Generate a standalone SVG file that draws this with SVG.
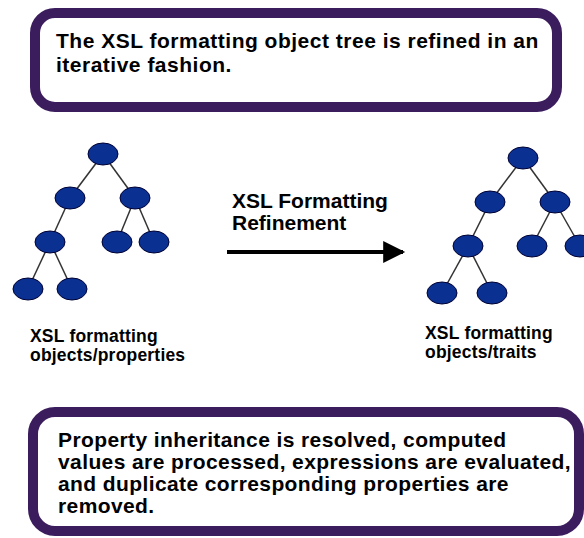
<svg xmlns="http://www.w3.org/2000/svg" width="584" height="538" viewBox="0 0 584 538">
<defs>
<style>
.box{fill:#ffffff;stroke:#3b1d5e;stroke-width:10}
.t{font-family:"Liberation Sans",Arial,sans-serif;font-weight:bold;fill:#000}
.big{font-size:21px;letter-spacing:0.5px}
.big2{font-size:21px;letter-spacing:0.4px}
.mid{font-size:21px}
.sm{font-size:17.5px;letter-spacing:0.2px}
.node{fill:#0a3191;stroke:#000033;stroke-width:1}
.edge{stroke:#333;stroke-width:1.5;fill:none}
</style>
<marker id="ah" viewBox="0 0 10 10" refX="9" refY="5" markerWidth="6.5" markerHeight="5.5" orient="auto" markerUnits="strokeWidth">
<path d="M0,0 L10,5 L0,10 Z" fill="#000"/>
</marker>
</defs>
<rect width="584" height="538" fill="#fff"/>

<g id="top-box">
<rect class="box" x="35" y="13" width="522" height="94" rx="20"/>
<text class="t big" x="56" y="48">The XSL formatting object tree is refined in an</text>
<text class="t big" x="56" y="72">iterative fashion.</text>
</g>

<g id="bottom-box">
<rect class="box" x="33" y="412" width="546" height="119" rx="22"/>
<text class="t big2" x="58" y="447">Property inheritance is resolved, computed</text>
<text class="t big2" x="58" y="469">values are processed, expressions are evaluated,</text>
<text class="t big2" x="58" y="491">and duplicate corresponding properties are</text>
<text class="t big2" x="58" y="513">removed.</text>
</g>

<g id="connectors">
<g id="left-tree-edges">
<line class="edge" x1="103" y1="154" x2="70" y2="198"/>
<line class="edge" x1="103" y1="154" x2="135" y2="198"/>
<line class="edge" x1="70" y1="198" x2="50" y2="242"/>
<line class="edge" x1="135" y1="198" x2="117" y2="242"/>
<line class="edge" x1="135" y1="198" x2="154" y2="242"/>
<line class="edge" x1="50" y1="242" x2="28" y2="289"/>
<line class="edge" x1="50" y1="242" x2="72" y2="289"/>
</g>
<g id="right-tree-edges">
<line class="edge" x1="523" y1="158" x2="490" y2="202"/>
<line class="edge" x1="523" y1="158" x2="555" y2="202"/>
<line class="edge" x1="490" y1="202" x2="468" y2="246"/>
<line class="edge" x1="555" y1="202" x2="532" y2="246"/>
<line class="edge" x1="555" y1="202" x2="580" y2="246"/>
<line class="edge" x1="468" y1="246" x2="442" y2="293"/>
<line class="edge" x1="468" y1="246" x2="492" y2="293"/>
</g>
<g id="refinement-arrow">
<line x1="227" y1="252" x2="403" y2="252" stroke="#000" stroke-width="4" marker-end="url(#ah)"/>
</g>
</g>

<g id="left-tree">
<ellipse class="node" cx="103" cy="154" rx="15" ry="11"/>
<ellipse class="node" cx="70" cy="198" rx="15" ry="11"/>
<ellipse class="node" cx="135" cy="198" rx="15" ry="11"/>
<ellipse class="node" cx="50" cy="242" rx="15" ry="11"/>
<ellipse class="node" cx="117" cy="242" rx="15" ry="11"/>
<ellipse class="node" cx="154" cy="242" rx="15" ry="11"/>
<ellipse class="node" cx="28" cy="289" rx="15" ry="11"/>
<ellipse class="node" cx="72" cy="289" rx="15" ry="11"/>
</g>

<g id="right-tree">
<ellipse class="node" cx="523" cy="158" rx="15" ry="11"/>
<ellipse class="node" cx="490" cy="202" rx="15" ry="11"/>
<ellipse class="node" cx="555" cy="202" rx="15" ry="11"/>
<ellipse class="node" cx="468" cy="246" rx="15" ry="11"/>
<ellipse class="node" cx="532" cy="246" rx="15" ry="11"/>
<ellipse class="node" cx="580" cy="246" rx="15" ry="11"/>
<ellipse class="node" cx="442" cy="293" rx="15" ry="11"/>
<ellipse class="node" cx="492" cy="293" rx="15" ry="11"/>
</g>

<g id="arrow-label">
<text class="t mid" x="232" y="208">XSL Formatting</text>
<text class="t mid" x="232" y="230">Refinement</text>
</g>

<g id="left-label">
<text class="t sm" x="30" y="342">XSL formatting</text>
<text class="t sm" x="30" y="361">objects/properties</text>
</g>

<g id="right-label">
<text class="t sm" x="425" y="339">XSL formatting</text>
<text class="t sm" x="425" y="358">objects/traits</text>
</g>
</svg>
